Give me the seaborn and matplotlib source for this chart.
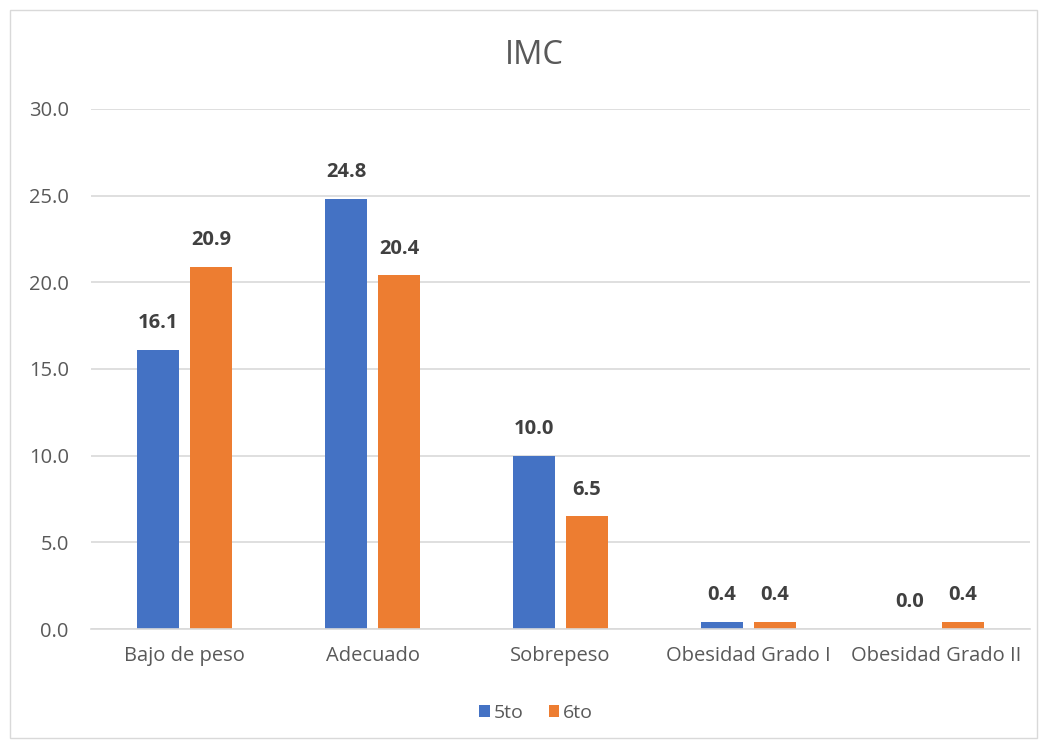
import matplotlib
matplotlib.use("Agg")
import matplotlib.pyplot as plt
import seaborn as sns
import pandas as pd
from matplotlib.patches import Rectangle, Patch

categories = ["Bajo de peso", "Adecuado", "Sobrepeso", "Obesidad Grado I", "Obesidad Grado II"]
series_names = ["5to", "6to"]
values_5to = [16.1, 24.8, 10.0, 0.4, 0.0]
values_6to = [20.9, 20.4, 6.5, 0.4, 0.4]
yticks = [0, 5, 10, 15, 20, 25, 30]

df = pd.DataFrame({
    "cat": categories * 2,
    "serie": [series_names[0]] * len(categories) + [series_names[1]] * len(categories),
    "val": values_5to + values_6to,
})

sns.set_theme(style="white")
plt.rcParams['font.family'] = ['Open Sans', 'DejaVu Sans']

fig = plt.figure(figsize=(10.47, 7.45), dpi=100)
ax = fig.add_axes([0.0869, 0.1557, 0.8968, 0.698])

palette = {"5to": "#4472C4", "6to": "#ED7D31"}
sns.barplot(data=df, x="cat", y="val", hue="serie", order=categories,
            hue_order=series_names, palette=palette, width=0.5644, gap=0.207,
            saturation=1, linewidth=0, edgecolor="none", ax=ax, legend=False)

ax.set_ylim(0, 30)
ax.set_xlim(-0.5, len(categories) - 0.5)
ax.set_yticks(yticks)
ax.set_yticklabels([f"{v:.1f}" for v in yticks])
ax.yaxis.grid(True, color="#D9D9D9", linewidth=1.2)
ax.set_axisbelow(True)
for s in ["top", "right", "left"]:
    ax.spines[s].set_visible(False)
ax.spines["bottom"].set_color("#D9D9D9")
ax.spines["bottom"].set_linewidth(1.2)
ax.tick_params(axis="y", length=0, labelsize=14.5, colors="#595959", pad=16)
ax.tick_params(axis="x", length=0, labelsize=14.5, colors="#595959", pad=12)
ax.set_xlabel("")
ax.set_ylabel("")

for cont in ax.containers:
    ax.bar_label(cont, fmt="%.1f", padding=12, fontsize=14.5, fontweight="bold", color="#404040")

fig.text(0.51, 0.926, "IMC", ha="center", va="center", fontsize=23.5, color="#595959")

handles = [Patch(facecolor=palette[s], edgecolor="none", label=s) for s in series_names]
fig.legend(handles=handles, loc="center", bbox_to_anchor=(0.512, 0.043), ncol=2, frameon=False,
           fontsize=14, handlelength=0.55, handleheight=0.55, handletextpad=0.2, columnspacing=1.3,
           labelcolor="#595959")

fig.add_artist(Rectangle((0.0095, 0.0095), 0.981, 0.977, transform=fig.transFigure,
                         fill=False, edgecolor="#D9D9D9", linewidth=1))

fig.savefig("out.png", dpi=100)
